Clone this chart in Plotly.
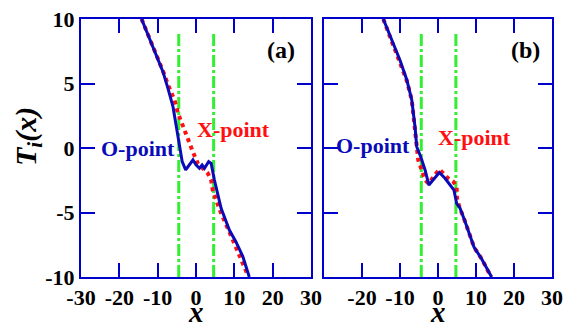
import plotly.graph_objects as go

# ---- data ----
xa_O = [-14.2, -11.2, -8.6, -7.3, -6.0, -5.1, -4.3, -3.6, -2.7, -1.7, -0.8, 0.05, 0.9, 1.6, 2.2, 3.3, 3.95, 4.8, 5.7, 6.55, 8.7, 10.4, 12.2, 13.9]
ya_O = [10, 7.85, 5.9, 4.6, 3.2, 1.6, 0.1, -1.06, -1.7, -1.3, -0.93, -1.32, -1.57, -1.32, -1.57, -1.06, -1.19, -2.48, -3.5, -4.67, -6.36, -7.26, -8.4, -10]

xa_X = [-14.2, -11.2, -8.6, -7.3, -5.6, -4.7, -3.4, -2.1, -0.83, 0.47, 1.77, 3.07, 3.95, 4.36, 5.25, 6.55, 8.7, 9.6, 11.5, 13.5]
ya_X = [10, 7.9, 5.95, 4.9, 3.7, 2.7, 1.65, 0.62, -0.29, -1.19, -1.57, -1.96, -2.48, -3.26, -4.03, -5.06, -6.5, -7.1, -8.4, -9.85]

xb_O = [-14.4, -12.2, -10.0, -8.2, -6.9, -6.05, -5.6, -4.55, -3.4, -2.4, -1.24, 0.35, 1.84, 3.16, 4.2, 4.9, 5.8, 7.0, 9.5, 11.5, 14.1]
yb_O = [10, 8.37, 6.8, 5.27, 3.72, 1.65, 0.1, -0.67, -1.7, -2.87, -2.48, -1.9, -2.35, -2.87, -3.26, -4.29, -4.67, -5.6, -7.7, -8.6, -10]

xb_X = [-14.4, -12.2, -10.0, -8.2, -6.9, -6.05, -5.6, -5.2, -4.3, -3.4, -2.5, -1.24, 0.35, 1.84, 2.7, 4.0, 4.9, 5.0, 5.6, 7.0, 9.5, 11.5, 14.0]
yb_X = [10, 8.3, 6.7, 5.2, 3.7, 1.6, 0.0, -0.93, -1.7, -2.48, -2.75, -2.3, -1.65, -2.1, -2.35, -2.6, -3.0, -3.9, -4.55, -5.6, -7.7, -8.6, -10]

vline_a = [-4.5, 4.6]
vline_b = [-4.4, 4.7]
vline_y = [-10, 9]

x_ticks_a = [-30, -20, -10, 0, 10, 20, 30]
x_labels_a = ["-30", "-20", "-10", "0", "10", "20", "30"]
x_ticks_b = [-20, -10, 0, 10, 20, 30]
x_labels_b = ["-20", "-10", "0", "10", "20", "30"]
y_ticks = [-10, -5, 0, 5, 10]
y_labels = ["-10", "-5", "0", "5", "10"]

# ---- style ----
W, H = 577, 327
FRAME = "#0000cc"
BLUE = "#0a0ab8"
RED = "#ff1010"
GREEN = "#33ee33"
FONT = "Liberation Serif"

fig = go.Figure()

for xr, yr, vl in [("x", "y", vline_a), ("x2", "y2", vline_b)]:
    for v in vl:
        fig.add_trace(go.Scatter(x=[v, v], y=vline_y, mode="lines", xaxis=xr, yaxis=yr,
                                 line=dict(color=GREEN, width=3, dash="12px,3px,3px,3px"),
                                 showlegend=False, hoverinfo="skip"))

fig.add_trace(go.Scatter(x=xa_X, y=ya_X, mode="lines", xaxis="x", yaxis="y",
                         line=dict(color=RED, width=4, dash="dot"), showlegend=False))
fig.add_trace(go.Scatter(x=xa_O, y=ya_O, mode="lines", xaxis="x", yaxis="y",
                         line=dict(color=BLUE, width=3), showlegend=False))
fig.add_trace(go.Scatter(x=xb_X, y=yb_X, mode="lines", xaxis="x2", yaxis="y2",
                         line=dict(color=RED, width=4, dash="dot"), showlegend=False))
fig.add_trace(go.Scatter(x=xb_O, y=yb_O, mode="lines", xaxis="x2", yaxis="y2",
                         line=dict(color=BLUE, width=3), showlegend=False))

tickfont = dict(family=FONT, size=22, color="black", weight="bold")
axis_common = dict(showline=True, linecolor=FRAME, linewidth=2, mirror="ticks",
                   ticks="inside", ticklen=14, tickwidth=2, tickcolor=FRAME,
                   showgrid=False, zeroline=False, tickfont=tickfont, automargin=False)

fig.update_layout(
    width=W, height=H,
    margin=dict(l=0, r=0, t=19, b=50, autoexpand=False),
    paper_bgcolor="white", plot_bgcolor="white",
    xaxis=dict(domain=[81 / W, 311 / W], range=[-30, 30], tickvals=x_ticks_a, ticktext=x_labels_a,
               anchor="y", **axis_common),
    yaxis=dict(domain=[0, 1], range=[-10, 10], tickvals=y_ticks, ticktext=y_labels,
               anchor="x", **axis_common),
    xaxis2=dict(domain=[324 / W, 552 / W], range=[-30, 30], tickvals=x_ticks_b, ticktext=x_labels_b,
                anchor="y2", **axis_common),
    yaxis2=dict(domain=[0, 1], range=[-10, 10], tickvals=y_ticks, showticklabels=False,
                anchor="x2", **axis_common),
)

ann_font = dict(family=FONT, size=22, weight="bold")
anns = [
    dict(x=-15.1, y=0.0, xref="x", yref="y", text="O-point", font=dict(color=BLUE, **ann_font)),
    dict(x=9.7, y=1.4, xref="x", yref="y", text="X-point", font=dict(color=RED, **ann_font)),
    dict(x=22.2, y=7.6, xref="x", yref="y", text="(a)", font=dict(family=FONT, size=24, weight="bold", color="black")),
    dict(x=-17.2, y=0.2, xref="x2", yref="y2", text="O-point", font=dict(color=BLUE, **ann_font)),
    dict(x=9.7, y=0.85, xref="x2", yref="y2", text="X-point", font=dict(color=RED, **ann_font)),
    dict(x=22.9, y=7.6, xref="x2", yref="y2", text="(b)", font=dict(family=FONT, size=24, weight="bold", color="black")),
    dict(x=28 / W, y=(277 - 137) / 258, xref="paper", yref="paper", textangle=-90,
         text="<i>T<sub>i</sub>(x)</i>", font=dict(family=FONT, size=30, weight="bold", color="black")),
    dict(x=196 / W, y=(277 - 312) / 258, xref="paper", yref="paper",
         text="<i>x</i>", font=dict(family=FONT, size=29, weight="bold", color="black")),
    dict(x=438 / W, y=(277 - 312) / 258, xref="paper", yref="paper",
         text="<i>x</i>", font=dict(family=FONT, size=29, weight="bold", color="black")),
]
for a in anns:
    a.update(showarrow=False, xanchor="center", yanchor="middle")
fig.update_layout(annotations=anns)

fig.write_html("out.html")
